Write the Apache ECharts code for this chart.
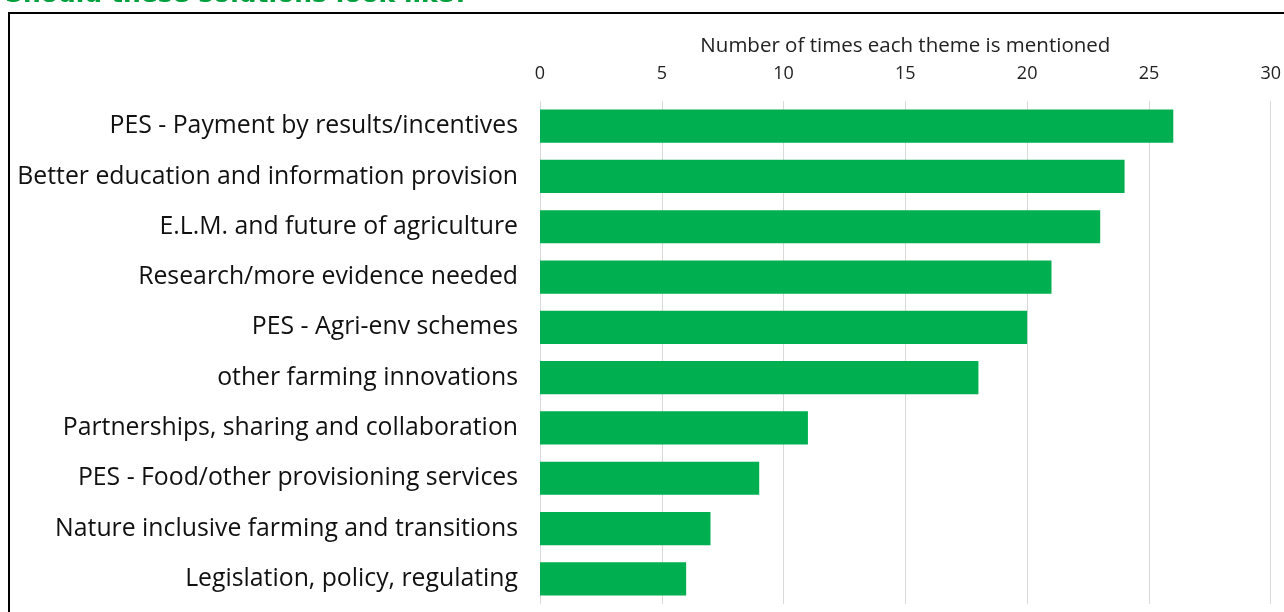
<!DOCTYPE html>
<html>
<head>
<meta charset="utf-8">
<script src="https://cdn.jsdelivr.net/npm/echarts@6/dist/echarts.min.js"></script>
<style>
  html, body { margin: 0; padding: 0; background: #fff; }
  #chart { width: 1284px; height: 612px; }
</style>
</head>
<body>
<div id="chart"></div>
<script>
// Themes raised in responses, top to bottom
const themes = [
  'PES - Payment by results/incentives',
  'Better education and information provision',
  'E.L.M. and future of agriculture',
  'Research/more evidence needed',
  'PES - Agri-env schemes',
  'other farming innovations',
  'Partnerships, sharing and collaboration',
  'PES - Food/other provisioning services',
  'Nature inclusive farming and transitions',
  'Legislation, policy, regulating'
];
// Number of mentions per theme
const mentions = [26, 24, 23, 21, 20, 18, 11, 9, 7, 6];

const headingText = 'Should these solutions look like?';
const axisTitle = 'Number of times each theme is mentioned';

const chart = echarts.init(document.getElementById('chart'), null, { renderer: 'canvas' });

chart.setOption({
  animation: false,
  backgroundColor: '#ffffff',
  graphic: [
    {
      type: 'text',
      left: 5,
      top: -17,
      style: {
        text: headingText,
        font: 'bold 25px "DejaVu Sans", sans-serif',
        fill: '#00a03c'
      }
    },
    {
      type: 'rect',
      shape: { x: 9, y: 13, width: 1300, height: 620 },
      style: { fill: 'none', stroke: '#000', lineWidth: 2 }
    }
  ],
  grid: { left: 540, right: 12, top: 101, bottom: 8, containLabel: false },
  xAxis: {
    type: 'value',
    position: 'top',
    min: 0,
    max: 30,
    interval: 5,
    name: axisTitle,
    nameLocation: 'middle',
    nameGap: 44,
    nameTextStyle: { fontFamily: 'Open Sans', fontSize: 20.5, color: '#222' },
    axisLine: { show: false },
    axisTick: { show: false },
    axisLabel: { fontFamily: 'Open Sans', fontSize: 18, color: '#222', margin: 18 },
    splitLine: { show: true, lineStyle: { color: '#d9d9d9', width: 1 } }
  },
  yAxis: {
    type: 'category',
    data: themes,
    inverse: true,
    axisLine: { show: false },
    axisTick: { show: false },
    axisLabel: {
      fontFamily: 'Open Sans', fontSize: 24.8, color: '#111', margin: 22,
      padding: [4, 0, 0, 0]
    }
  },
  series: [{
    type: 'bar',
    data: mentions,
    barCategoryGap: '34%',
    itemStyle: { color: '#00b050' }
  }]
});
</script>
</body>
</html>
